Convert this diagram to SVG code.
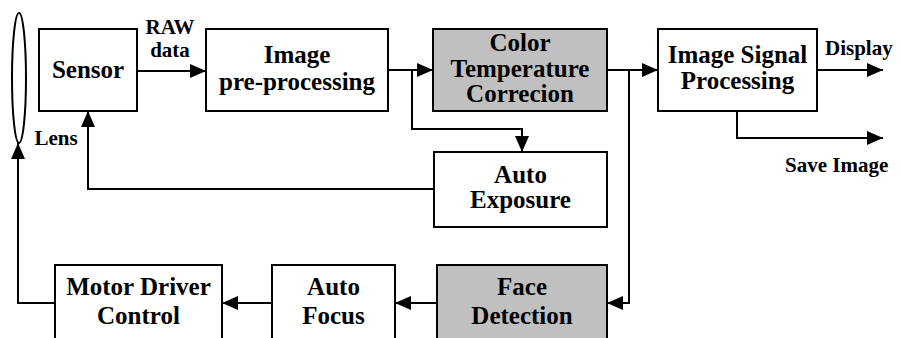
<svg xmlns="http://www.w3.org/2000/svg" width="900" height="338" viewBox="0 0 900 338">
<style>
.box{fill:#ffffff;stroke:#000;stroke-width:2}
.gray{fill:#c0c0c0;stroke:#000;stroke-width:2}
.t{font-weight:bold;font-size:25px;fill:#000;text-anchor:middle}
.l{font-weight:bold;font-size:21px;fill:#000}
.c{fill:none;stroke:#000;stroke-width:2;marker-end:url(#ah)}
</style>
<defs>
<marker id="ah" markerUnits="userSpaceOnUse" markerWidth="16" markerHeight="14" refX="16" refY="7" orient="auto">
<path d="M0,0 L16,7 L0,14 z" fill="#000"/>
</marker>
</defs>
<rect width="900" height="338" fill="#fff"/>
<g font-family="Liberation Serif, DejaVu Serif, serif">
<g id="lens">
<ellipse cx="19" cy="78" rx="7" ry="65" fill="none" stroke="#000" stroke-width="2"/>
<text class="l" x="56" y="145" text-anchor="middle">Lens</text>
</g>
<g id="sensor">
<rect class="box" x="39" y="29" width="98" height="82"/>
<text class="t" x="88" y="78">Sensor</text>
</g>
<g id="preproc">
<rect class="box" x="206" y="29" width="182" height="82"/>
<text class="t" x="297" y="63">Image</text>
<text class="t" x="297" y="90">pre-processing</text>
</g>
<g id="colortemp">
<rect class="gray" x="433" y="29" width="174" height="82"/>
<text class="t" x="520" y="51" font-size="23.5">Color</text>
<text class="t" x="520" y="76.5" font-size="23.5">Temperature</text>
<text class="t" x="520" y="102" font-size="23.5">Correcion</text>
</g>
<g id="isp">
<rect class="box" x="658" y="29" width="159" height="82"/>
<text class="t" x="737.5" y="63">Image Signal</text>
<text class="t" x="737.5" y="89">Processing</text>
</g>
<g id="autoexposure">
<rect class="box" x="434" y="152" width="173" height="75"/>
<text class="t" x="520.5" y="183">Auto</text>
<text class="t" x="520.5" y="208">Exposure</text>
</g>
<g id="facedetection">
<rect class="gray" x="437" y="265" width="170" height="90"/>
<text class="t" x="522" y="295">Face</text>
<text class="t" x="522" y="324">Detection</text>
</g>
<g id="autofocus">
<rect class="box" x="272" y="265" width="123" height="90"/>
<text class="t" x="333.5" y="295">Auto</text>
<text class="t" x="333.5" y="324">Focus</text>
</g>
<g id="motordriver">
<rect class="box" x="55" y="265" width="167" height="90"/>
<text class="t" x="138.5" y="295">Motor Driver</text>
<text class="t" x="138.5" y="324">Control</text>
</g>
<g id="connectors">
<path class="c" d="M137,71 H206"/>
<path class="c" d="M388,70 H433"/>
<path class="c" d="M412,70 V129 H522 V152"/>
<path class="c" d="M607,70 H658"/>
<path class="c" d="M629,70 V303 H607"/>
<path class="c" d="M817,70 H883"/>
<path class="c" d="M737,111 V138 H883"/>
<path class="c" d="M434,189 H88 V111"/>
<path class="c" d="M437,303 H395"/>
<path class="c" d="M272,303 H222"/>
<path class="c" d="M55,303 H18 V143"/>
<text class="l" x="170" y="34" text-anchor="middle">RAW</text>
<text class="l" x="170" y="57" text-anchor="middle">data</text>
<text class="l" x="825" y="55">Display</text>
<text class="l" x="785" y="172">Save Image</text>
</g>
</g>
</svg>
